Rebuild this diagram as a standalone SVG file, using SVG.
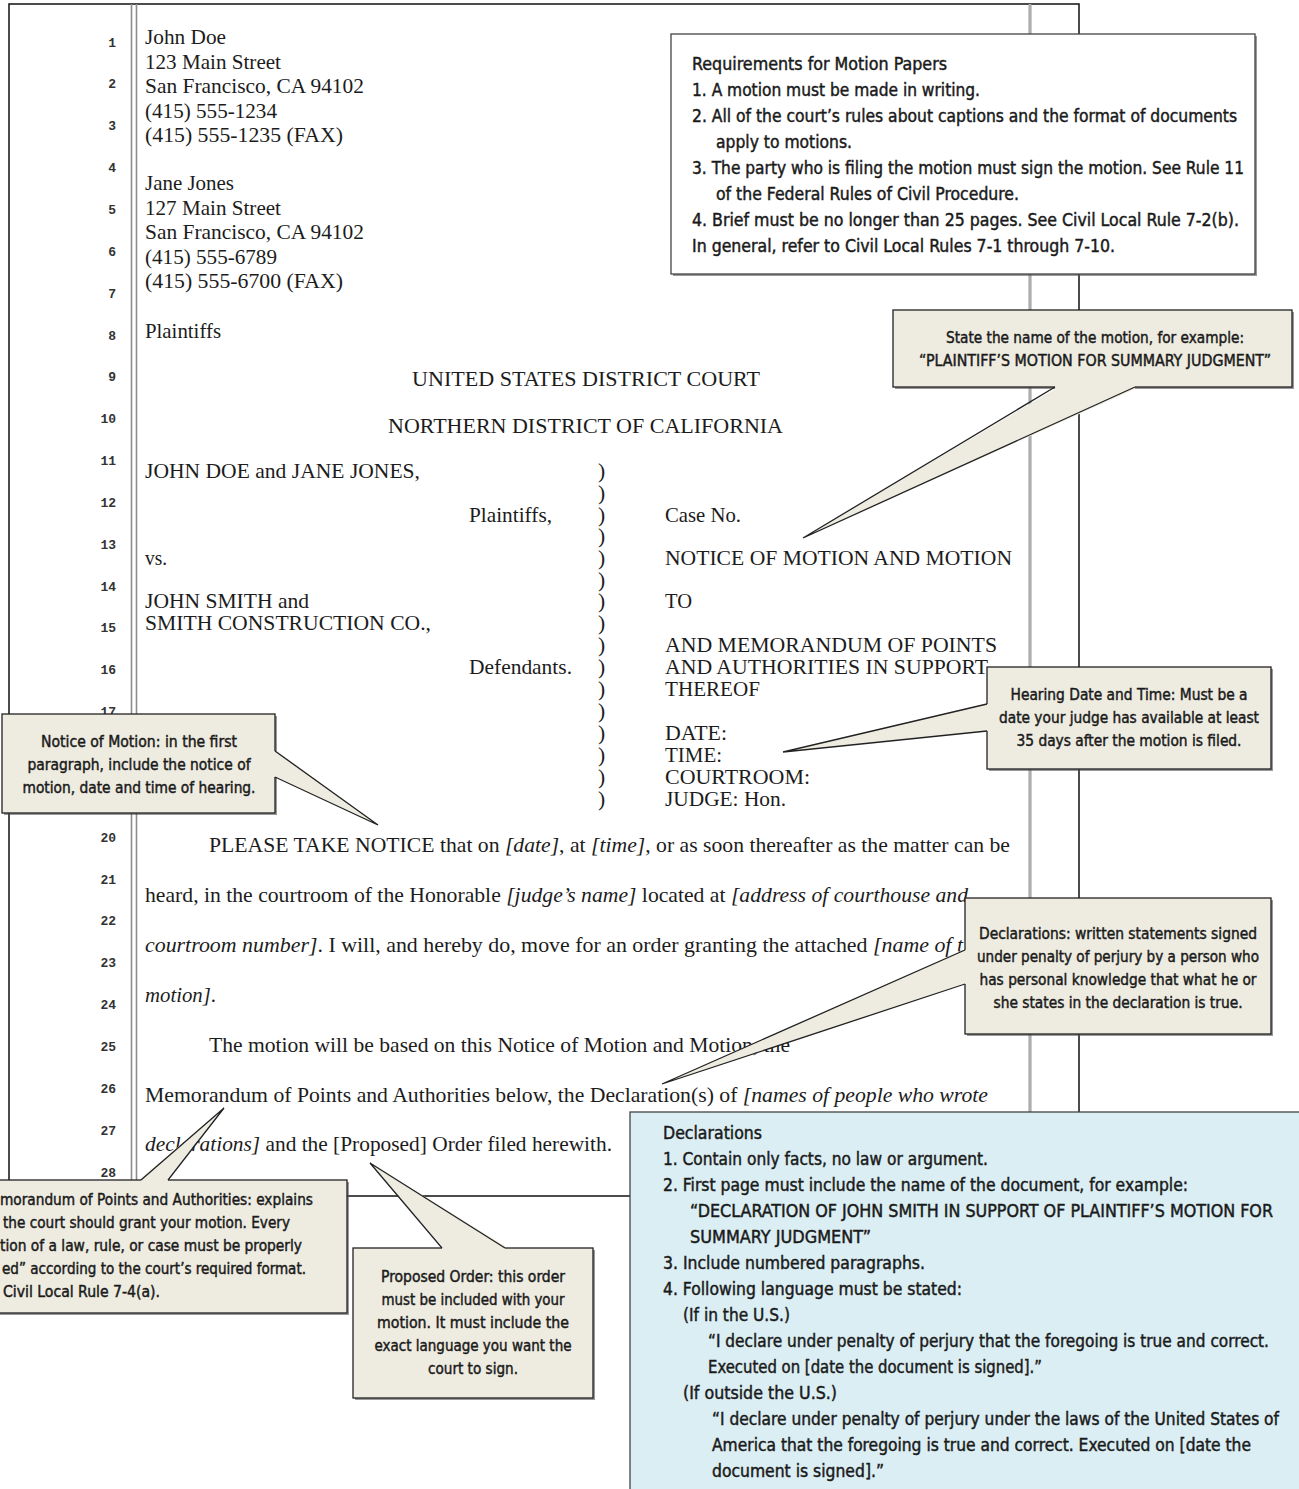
<svg xmlns="http://www.w3.org/2000/svg" width="1299" height="1489" viewBox="0 0 1299 1489">
<style>
.bg{fill:#ffffff}
.pg{fill:none;stroke:#111;stroke-width:1.5}
.mg{stroke:#8c8c8c;stroke-width:1.6;fill:none}
.ser{font-family:'Liberation Serif','Times New Roman',serif;font-size:21.5px;fill:#1c1c1c}
.it{font-style:italic}
.num{font-family:'Liberation Mono','Courier New',monospace;font-weight:bold;font-size:13px;fill:#333;text-anchor:end}
.co{fill:#EEECE1;stroke:#222;stroke-width:1.3}
.sh{fill:#555;opacity:.6}
.rq{fill:#ffffff;stroke:#444;stroke-width:1.3}
.bl{fill:#DAEEF3;stroke:#444;stroke-width:1.3}
.ct{font-family:'Liberation Sans Narrow','DejaVu Sans Condensed','Liberation Sans',sans-serif;font-size:16px;fill:#1a1a1a;stroke:#1a1a1a;stroke-width:0.45px}
.bt{font-family:'Liberation Sans Narrow','DejaVu Sans Condensed','Liberation Sans',sans-serif;font-size:18px;fill:#1a1a1a;stroke:#1a1a1a;stroke-width:0.45px}
.c{text-anchor:middle}
.wf{fill:#EEECE1;stroke:none}
.wl{fill:none;stroke:#222;stroke-width:1.3;stroke-linejoin:miter}
</style>
<rect class="bg" x="0" y="0" width="1299" height="1489"/>

<g id="page">
  <rect class="pg" x="9" y="4" width="1070" height="1192"/>
  <line class="mg" x1="131.5" y1="4" x2="131.5" y2="1196"/>
  <line class="mg" x1="136.5" y1="4" x2="136.5" y2="1196"/>
  <line x1="1030" y1="4" x2="1030" y2="1196" stroke="#999" stroke-width="3"/>
  <line x1="1030" y1="4" x2="1030" y2="1196" stroke="#ccc" stroke-width="0.8"/>
</g>

<g id="line-numbers">
  <text class="num" x="116" y="46.5">1</text>
  <text class="num" x="116" y="88.4">2</text>
  <text class="num" x="116" y="130.2">3</text>
  <text class="num" x="116" y="172.1">4</text>
  <text class="num" x="116" y="213.9">5</text>
  <text class="num" x="116" y="255.8">6</text>
  <text class="num" x="116" y="297.6">7</text>
  <text class="num" x="116" y="339.5">8</text>
  <text class="num" x="116" y="381.3">9</text>
  <text class="num" x="116" y="423.2">10</text>
  <text class="num" x="116" y="465">11</text>
  <text class="num" x="116" y="506.9">12</text>
  <text class="num" x="116" y="548.7">13</text>
  <text class="num" x="116" y="590.6">14</text>
  <text class="num" x="116" y="632.4">15</text>
  <text class="num" x="116" y="674.3">16</text>
  <text class="num" x="116" y="716.1">17</text>
  <text class="num" x="116" y="841.7">20</text>
  <text class="num" x="116" y="883.5">21</text>
  <text class="num" x="116" y="925.4">22</text>
  <text class="num" x="116" y="967.2">23</text>
  <text class="num" x="116" y="1009.1">24</text>
  <text class="num" x="116" y="1050.9">25</text>
  <text class="num" x="116" y="1092.8">26</text>
  <text class="num" x="116" y="1134.6">27</text>
  <text class="num" x="116" y="1176.5">28</text>
</g>

<g id="document-text">
  <text class="ser" x="145" y="44" textLength="81" lengthAdjust="spacingAndGlyphs">John Doe</text>
  <text class="ser" x="145" y="68.5" textLength="136" lengthAdjust="spacingAndGlyphs">123 Main Street</text>
  <text class="ser" x="145" y="93" textLength="219" lengthAdjust="spacingAndGlyphs">San Francisco, CA 94102</text>
  <text class="ser" x="145" y="117.5" textLength="132" lengthAdjust="spacingAndGlyphs">(415) 555-1234</text>
  <text class="ser" x="145" y="142" textLength="198" lengthAdjust="spacingAndGlyphs">(415) 555-1235 (FAX)</text>
  <text class="ser" x="145" y="190" textLength="89" lengthAdjust="spacingAndGlyphs">Jane Jones</text>
  <text class="ser" x="145" y="214.5" textLength="136" lengthAdjust="spacingAndGlyphs">127 Main Street</text>
  <text class="ser" x="145" y="239" textLength="219" lengthAdjust="spacingAndGlyphs">San Francisco, CA 94102</text>
  <text class="ser" x="145" y="263.5" textLength="132" lengthAdjust="spacingAndGlyphs">(415) 555-6789</text>
  <text class="ser" x="145" y="288" textLength="198" lengthAdjust="spacingAndGlyphs">(415) 555-6700 (FAX)</text>
  <text class="ser" x="145" y="338" textLength="76" lengthAdjust="spacingAndGlyphs">Plaintiffs</text>

  <text class="ser" x="412" y="386" textLength="348" lengthAdjust="spacingAndGlyphs">UNITED STATES DISTRICT COURT</text>
  <text class="ser" x="388" y="433" textLength="395" lengthAdjust="spacingAndGlyphs">NORTHERN DISTRICT OF CALIFORNIA</text>

  <text class="ser" x="145" y="478" textLength="275" lengthAdjust="spacingAndGlyphs">JOHN DOE and JANE JONES,</text>
  <text class="ser" x="469" y="522" textLength="83" lengthAdjust="spacingAndGlyphs">Plaintiffs,</text>
  <text class="ser" x="665" y="522" textLength="76" lengthAdjust="spacingAndGlyphs">Case No.</text>
  <text class="ser" x="145" y="565" textLength="22" lengthAdjust="spacingAndGlyphs">vs.</text>
  <text class="ser" x="665" y="565" textLength="347" lengthAdjust="spacingAndGlyphs">NOTICE OF MOTION AND MOTION</text>
  <text class="ser" x="145" y="608" textLength="164" lengthAdjust="spacingAndGlyphs">JOHN SMITH and</text>
  <text class="ser" x="665" y="608" textLength="27" lengthAdjust="spacingAndGlyphs">TO</text>
  <text class="ser" x="145" y="630" textLength="286" lengthAdjust="spacingAndGlyphs">SMITH CONSTRUCTION CO.,</text>
  <text class="ser" x="665" y="652" textLength="332" lengthAdjust="spacingAndGlyphs">AND MEMORANDUM OF POINTS</text>
  <text class="ser" x="665" y="674" textLength="323" lengthAdjust="spacingAndGlyphs">AND AUTHORITIES IN SUPPORT</text>
  <text class="ser" x="469" y="674" textLength="103" lengthAdjust="spacingAndGlyphs">Defendants.</text>
  <text class="ser" x="665" y="696" textLength="95" lengthAdjust="spacingAndGlyphs">THEREOF</text>
  <text class="ser" x="665" y="740" textLength="62" lengthAdjust="spacingAndGlyphs">DATE:</text>
  <text class="ser" x="665" y="762" textLength="57" lengthAdjust="spacingAndGlyphs">TIME:</text>
  <text class="ser" x="665" y="784" textLength="145" lengthAdjust="spacingAndGlyphs">COURTROOM:</text>
  <text class="ser" x="665" y="806" textLength="121" lengthAdjust="spacingAndGlyphs">JUDGE: Hon.</text>

  <text class="ser"><tspan x="598" y="478">)</tspan><tspan x="598" y="500">)</tspan><tspan x="598" y="522">)</tspan><tspan x="598" y="543">)</tspan><tspan x="598" y="565">)</tspan><tspan x="598" y="587">)</tspan><tspan x="598" y="608">)</tspan><tspan x="598" y="630">)</tspan><tspan x="598" y="652">)</tspan><tspan x="598" y="674">)</tspan><tspan x="598" y="696">)</tspan><tspan x="598" y="718">)</tspan><tspan x="598" y="740">)</tspan><tspan x="598" y="762">)</tspan><tspan x="598" y="784">)</tspan><tspan x="598" y="806">)</tspan></text>

  <text class="ser" x="209" y="852" textLength="801" lengthAdjust="spacingAndGlyphs">PLEASE TAKE NOTICE that on <tspan class="it">[date]</tspan>, at <tspan class="it">[time]</tspan>, or as soon thereafter as the matter can be</text>
  <text class="ser" x="145" y="902" textLength="823" lengthAdjust="spacingAndGlyphs">heard, in the courtroom of the Honorable <tspan class="it">[judge’s name]</tspan> located at <tspan class="it">[address of courthouse and</tspan></text>
  <text class="ser" x="145" y="952" textLength="818" lengthAdjust="spacingAndGlyphs"><tspan class="it">courtroom number]</tspan>. I will, and hereby do, move for an order granting the attached <tspan class="it">[name of t</tspan></text>
  <text class="ser" x="145" y="1002" textLength="71" lengthAdjust="spacingAndGlyphs"><tspan class="it">motion]</tspan>.</text>
  <text class="ser" x="209" y="1052" textLength="581" lengthAdjust="spacingAndGlyphs">The motion will be based on this Notice of Motion and Motion, the</text>
  <text class="ser" x="145" y="1102" textLength="843" lengthAdjust="spacingAndGlyphs">Memorandum of Points and Authorities below, the Declaration(s) of <tspan class="it">[names of people who wrote</tspan></text>
  <text class="ser" x="145" y="1151" textLength="467" lengthAdjust="spacingAndGlyphs"><tspan class="it">declarations]</tspan> and the [Proposed] Order filed herewith.</text>
</g>

<g id="requirements">
  <rect class="sh" x="673" y="36" width="584" height="240"/>
  <rect class="rq" x="671" y="34" width="584" height="240"/>
  <text class="bt" x="692" y="70" textLength="255" lengthAdjust="spacingAndGlyphs">Requirements for Motion Papers</text>
  <text class="bt" x="692" y="96" textLength="288" lengthAdjust="spacingAndGlyphs">1. A motion must be made in writing.</text>
  <text class="bt" x="692" y="122" textLength="545" lengthAdjust="spacingAndGlyphs">2. All of the court’s rules about captions and the format of documents</text>
  <text class="bt" x="716" y="148" textLength="136" lengthAdjust="spacingAndGlyphs">apply to motions.</text>
  <text class="bt" x="692" y="174" textLength="552" lengthAdjust="spacingAndGlyphs">3. The party who is filing the motion must sign the motion. See Rule 11</text>
  <text class="bt" x="716" y="200" textLength="303" lengthAdjust="spacingAndGlyphs">of the Federal Rules of Civil Procedure.</text>
  <text class="bt" x="692" y="226" textLength="547" lengthAdjust="spacingAndGlyphs">4. Brief must be no longer than 25 pages.  See Civil Local Rule 7-2(b).</text>
  <text class="bt" x="692" y="252" textLength="423" lengthAdjust="spacingAndGlyphs">In general, refer to Civil Local Rules 7-1 through 7-10.</text>
</g>

<g id="callout-motion-name">
  <rect class="sh" x="895" y="312" width="399" height="77"/>
  <rect class="co" x="893" y="310" width="399" height="77"/>
  <text class="ct c" x="1095" y="343" textLength="298" lengthAdjust="spacingAndGlyphs">State the name of the motion, for example:</text>
  <text class="ct c" x="1095" y="366" textLength="352" lengthAdjust="spacingAndGlyphs">“PLAINTIFF’S MOTION FOR SUMMARY JUDGMENT”</text>
</g>

<g id="callout-hearing">
  <rect class="sh" x="989" y="669" width="284" height="102"/>
  <rect class="co" x="987" y="667" width="284" height="102"/>
  <text class="ct c" x="1129" y="700" textLength="237" lengthAdjust="spacingAndGlyphs">Hearing Date and Time: Must be a</text>
  <text class="ct c" x="1129" y="723" textLength="260" lengthAdjust="spacingAndGlyphs">date your judge has available at least</text>
  <text class="ct c" x="1129" y="746" textLength="225" lengthAdjust="spacingAndGlyphs">35 days after the motion is filed.</text>
</g>

<g id="callout-notice">
  <rect class="sh" x="4" y="716" width="273" height="99"/>
  <rect class="co" x="2" y="714" width="273" height="99"/>
  <text class="ct c" x="139" y="747" textLength="196" lengthAdjust="spacingAndGlyphs">Notice of Motion: in the first</text>
  <text class="ct c" x="139" y="770" textLength="223" lengthAdjust="spacingAndGlyphs">paragraph, include the notice of</text>
  <text class="ct c" x="139" y="793" textLength="233" lengthAdjust="spacingAndGlyphs">motion, date and time of hearing.</text>
</g>

<g id="callout-declarations">
  <rect class="sh" x="967" y="900" width="306" height="136"/>
  <rect class="co" x="965" y="898" width="306" height="136"/>
  <text class="ct c" x="1118" y="939" textLength="278" lengthAdjust="spacingAndGlyphs">Declarations: written statements signed</text>
  <text class="ct c" x="1118" y="962" textLength="282" lengthAdjust="spacingAndGlyphs">under penalty of perjury by a person who</text>
  <text class="ct c" x="1118" y="985" textLength="277" lengthAdjust="spacingAndGlyphs">has personal knowledge that what he or</text>
  <text class="ct c" x="1118" y="1008" textLength="249" lengthAdjust="spacingAndGlyphs">she states in the declaration is true.</text>
</g>

<g id="callout-memorandum">
  <rect class="sh" x="-8" y="1182" width="357" height="133"/>
  <rect class="co" x="-10" y="1180" width="357" height="133"/>
  <text class="ct" x="0" y="1205" textLength="313" lengthAdjust="spacingAndGlyphs">morandum of Points and Authorities: explains</text>
  <text class="ct" x="3" y="1228" textLength="287" lengthAdjust="spacingAndGlyphs">the court should grant your motion.  Every</text>
  <text class="ct" x="0" y="1251" textLength="302" lengthAdjust="spacingAndGlyphs">tion of a law, rule, or case must be properly</text>
  <text class="ct" x="2" y="1274" textLength="304" lengthAdjust="spacingAndGlyphs">ed” according to the court’s required format.</text>
  <text class="ct" x="3" y="1297" textLength="157" lengthAdjust="spacingAndGlyphs">Civil Local Rule 7-4(a).</text>
</g>

<g id="callout-proposed-order">
  <rect class="sh" x="355" y="1250" width="240" height="150"/>
  <rect class="co" x="353" y="1248" width="240" height="150"/>
  <text class="ct c" x="473" y="1282" textLength="184" lengthAdjust="spacingAndGlyphs">Proposed Order: this order</text>
  <text class="ct c" x="473" y="1305" textLength="183" lengthAdjust="spacingAndGlyphs">must be included with your</text>
  <text class="ct c" x="473" y="1328" textLength="192" lengthAdjust="spacingAndGlyphs">motion.  It must include the</text>
  <text class="ct c" x="473" y="1351" textLength="197" lengthAdjust="spacingAndGlyphs">exact language you want the</text>
  <text class="ct c" x="473" y="1374" textLength="90" lengthAdjust="spacingAndGlyphs">court to sign.</text>
</g>

<g id="declarations-box">
  <rect class="bl" x="630" y="1112" width="690" height="400"/>
  <text class="bt" x="663" y="1139" textLength="99" lengthAdjust="spacingAndGlyphs">Declarations</text>
  <text class="bt" x="663" y="1165" textLength="325" lengthAdjust="spacingAndGlyphs">1. Contain only facts, no law or argument.</text>
  <text class="bt" x="663" y="1191" textLength="525" lengthAdjust="spacingAndGlyphs">2.  First page must include the name of the document, for example:</text>
  <text class="bt" x="690" y="1217" textLength="583" lengthAdjust="spacingAndGlyphs">“DECLARATION OF JOHN SMITH IN SUPPORT OF PLAINTIFF’S MOTION FOR</text>
  <text class="bt" x="690" y="1243" textLength="181" lengthAdjust="spacingAndGlyphs">SUMMARY JUDGMENT”</text>
  <text class="bt" x="663" y="1269" textLength="262" lengthAdjust="spacingAndGlyphs">3. Include numbered paragraphs.</text>
  <text class="bt" x="663" y="1295" textLength="299" lengthAdjust="spacingAndGlyphs">4. Following language must be stated:</text>
  <text class="bt" x="683" y="1321" textLength="107" lengthAdjust="spacingAndGlyphs">(If in the U.S.)</text>
  <text class="bt" x="708" y="1347" textLength="561" lengthAdjust="spacingAndGlyphs">“I declare under penalty of perjury that the foregoing is true and correct.</text>
  <text class="bt" x="708" y="1373" textLength="334" lengthAdjust="spacingAndGlyphs">Executed on [date the document is signed].”</text>
  <text class="bt" x="683" y="1399" textLength="154" lengthAdjust="spacingAndGlyphs">(If outside the U.S.)</text>
  <text class="bt" x="712" y="1425" textLength="567" lengthAdjust="spacingAndGlyphs">“I declare under penalty of perjury under the laws of the United States of</text>
  <text class="bt" x="712" y="1451" textLength="539" lengthAdjust="spacingAndGlyphs">America that the foregoing is true and correct.  Executed on [date the</text>
  <text class="bt" x="712" y="1477" textLength="172" lengthAdjust="spacingAndGlyphs">document is signed].”</text>
</g>

<g id="connectors">
  <path class="wf" d="M1055,383 L1135,383 L1135,389 L803,538 L1055,389 Z"/>
  <path class="wl" d="M1055,387 L803,538 L1135,387"/>
  <path class="wf" d="M271,751 L271,777 L277,777 L378,825 L277,751 Z"/>
  <path class="wl" d="M275,751 L378,825 L275,777"/>
  <path class="wf" d="M991,704 L991,731 L985,731 L783,752 L985,704 Z"/>
  <path class="wl" d="M987,704 L783,752 L987,731"/>
  <path class="wf" d="M969,950 L969,984 L963,984 L662,1084 L963,950 Z"/>
  <path class="wl" d="M965,950 L662,1084 L965,984"/>
  <path class="wf" d="M141,1184 L168,1184 L168,1178 L224,1108 L141,1178 Z"/>
  <path class="wl" d="M141,1180 L224,1108 L168,1180"/>
  <path class="wf" d="M442,1252 L505,1252 L505,1246 L370,1163 L442,1246 Z"/>
  <path class="wl" d="M442,1248 L370,1163 L505,1248"/>
</g>
</svg>
